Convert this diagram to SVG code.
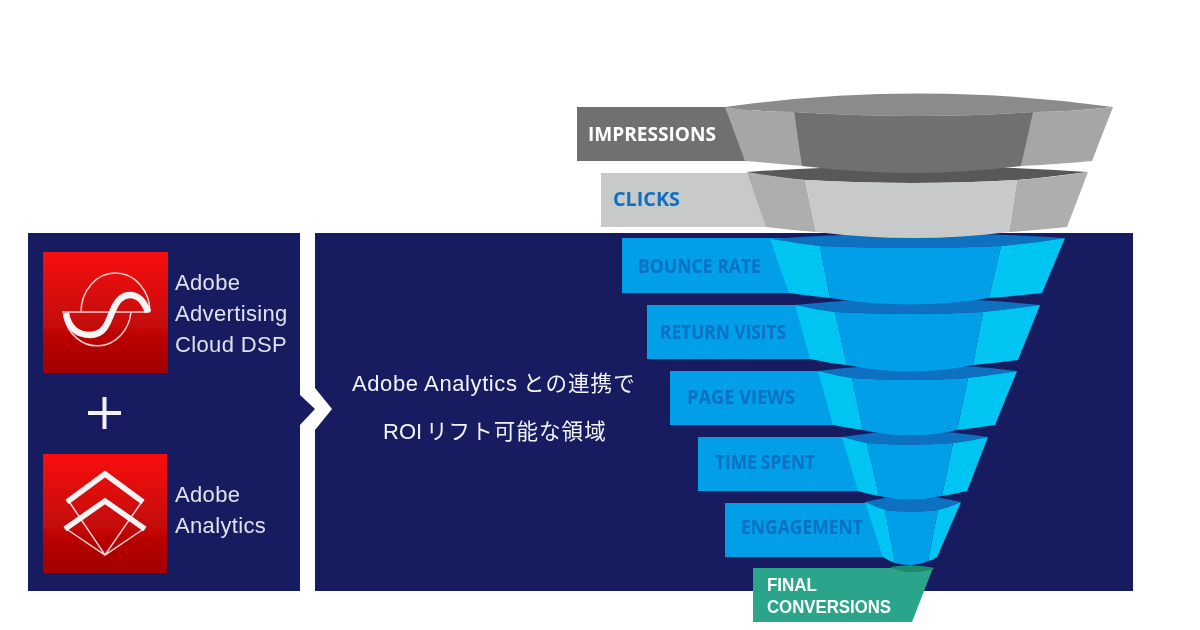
<svg xmlns="http://www.w3.org/2000/svg" width="1200" height="630" viewBox="0 0 1200 630">
<style>
.panel{fill:#181c5e}
.side{font-family:"Liberation Sans",Arial,sans-serif;font-size:22px;letter-spacing:.35px;fill:#dfe2ec}
.mid{font-family:"Liberation Sans","Noto Sans CJK JP",sans-serif;font-size:22px;fill:#f2f3f8}
.lat{letter-spacing:.6px}
.jp{font-size:21.500px;letter-spacing:1.100px}
.lb{font-family:"Open Sans","Liberation Sans",sans-serif;font-size:20px;font-weight:700}
.fin{font-family:"Liberation Sans",Arial,sans-serif;font-size:19px;font-weight:700;fill:#fff}
.bl{fill:#009fe8}.bs{fill:#00c4f2}.bd{fill:#0a6fc0}.bt{fill:#0a6fc0}
.thick{fill:none;stroke:#f4f4f4;stroke-width:6.500}
.thin{fill:none;stroke:#f2d6d6;stroke-width:1.500}
</style>
<defs>
<linearGradient id="red" x1="0" y1="0" x2="0" y2="1"><stop offset="0" stop-color="#f90d0d"/><stop offset="1" stop-color="#a00303"/></linearGradient>
<filter id="soft" x="-5%" y="-5%" width="110%" height="110%"><feGaussianBlur stdDeviation="0.7"/></filter>
</defs>
<rect width="1200" height="630" fill="#fff"/>
<g filter="url(#soft)">
<g id="left-panel">
<rect class="panel" x="28" y="233" width="272" height="358"/>
<polygon class="panel" points="299,394 315,409 299,426"/>
</g>
<g id="right-panel">
<polygon class="panel" points="315,233 1133,233 1133,591 315,591 315,430 332,409 315,388"/>
</g>
<g id="connectors"></g>
<g id="dsp">
<rect x="43" y="252" width="125" height="121" fill="url(#red)"/>
<path class="thin" d="M62,312H150M81,312A34.500,39 0 0 1 150,312M131,312A34,38 0 0 1 64,316"/>
<path class="thick" d="M66,313C68,328 78,335 90,335C105,335 108,322 113,310C118,298 124,295 130,295C140,295 145,304 148,312"/>
<text class="side" x="175" y="290">Adobe</text>
<text class="side" x="175" y="321">Advertising</text>
<text class="side" x="175" y="352">Cloud DSP</text>
</g>
<g id="plus"><path d="M88,413H121M104.500,397V429" stroke="#f2f3f8" stroke-width="4" fill="none"/></g>
<g id="analytics">
<rect x="43" y="454" width="124" height="119" fill="url(#red)"/>
<path class="thin" d="M68,500L105,555L143,500M65,528L105,555L145,528"/>
<path class="thick" style="stroke-width:5.500" d="M67,502L105,474L143,502M65,529L105,501L145,529"/>
<text class="side" x="175" y="502">Adobe</text>
<text class="side" x="175" y="533">Analytics</text>
</g>
<g id="caption">
<text class="mid" x="352" y="391"><tspan class="lat">Adobe Analytics</tspan><tspan class="jp" x="523">との連携で</tspan></text>
<text class="mid" x="383" y="438.500">ROI <tspan class="jp" x="426">リフト可能な領域</tspan></text>
</g>
<g id="final-conversions">
<polygon points="753,568 933,568 912,622 753,622" fill="#2ba58c"/>
<path d="M890,567Q912,563 935,568Q912,577 890,567Z" fill="#1b8a6b"/>
<text class="fin" x="767" y="591" textLength="50" lengthAdjust="spacingAndGlyphs">FINAL</text>
<text class="fin" x="767" y="613" textLength="124" lengthAdjust="spacingAndGlyphs">CONVERSIONS</text>
</g>
<g id="engagement">
<rect class="bl" x="725" y="503" width="160" height="54"/>
<path class="bd" d="M865,502Q912,490 961,502Q950,507 938,510Q911,513 885,510Q875,507 865,502Z"/>
<path class="bs" d="M865,502Q875,507 885,510L895,563Q889,561 883,557Z"/>
<path class="bs" d="M938,510Q950,507 961,502L937,557Q933,560 928,561Z"/>
<path class="bl" d="M885,510Q911,513 938,510L928,561Q912,568 895,563Z"/>
<text class="lb bt" x="741" y="534" textLength="122" lengthAdjust="spacingAndGlyphs">ENGAGEMENT</text>
</g>
<g id="time-spent">
<rect class="bl" x="698" y="437" width="164" height="54"/>
<path class="bd" d="M842,437Q915,425 988,437Q970,441 953,443Q910,446 867,443Q855,441 842,437Z"/>
<path class="bs" d="M842,437Q855,441 867,443L879,496Q868,494 858,491Z"/>
<path class="bs" d="M953,443Q970,441 988,437L967,491Q955,494 942,496Z"/>
<path class="bl" d="M867,443Q910,446 953,443L942,496Q910,503 879,496Z"/>
<text class="lb bt" x="715" y="469" textLength="100" lengthAdjust="spacingAndGlyphs">TIME SPENT</text>
</g>
<g id="page-views">
<rect class="bl" x="670" y="371" width="167" height="54"/>
<path class="bd" d="M818,371Q917,358 1017,371Q992,375 968,378Q910,382 852,378Q835,376 818,371Z"/>
<path class="bs" d="M818,371Q835,376 852,378L863,430Q848,428 833,425Z"/>
<path class="bs" d="M968,378Q992,375 1017,371L995,425Q976,428 957,430Z"/>
<path class="bl" d="M852,378Q910,382 968,378L957,430Q910,441 863,430Z"/>
<text class="lb bt" x="687" y="404" textLength="108" lengthAdjust="spacingAndGlyphs">PAGE VIEWS</text>
</g>
<g id="return-visits">
<rect class="bl" x="647" y="305" width="168" height="54"/>
<path class="bd" d="M795,305Q917,292 1040,305Q1012,309 983,312Q910,316 835,312Q815,310 795,305Z"/>
<path class="bs" d="M795,305Q815,310 835,312L847,365Q828,363 810,359Z"/>
<path class="bs" d="M983,312Q1012,309 1040,305L1018,360Q995,363 973,365Z"/>
<path class="bl" d="M835,312Q910,316 983,312L973,365Q910,378 847,365Z"/>
<text class="lb bt" x="660" y="339" textLength="126" lengthAdjust="spacingAndGlyphs">RETURN VISITS</text>
</g>
<g id="bounce-rate">
<rect class="bl" x="622" y="238" width="172" height="55"/>
<path class="bd" d="M770,239Q917,228 1065,238Q1035,243 1001,246Q915,250 820,246Q795,243 770,239Z"/>
<path class="bs" d="M770,239Q795,243 820,246L830,298Q810,296 789,293Z"/>
<path class="bs" d="M1001,246Q1035,243 1065,238L1042,293Q1015,296 989,298Z"/>
<path class="bl" d="M820,246Q915,250 1001,246L989,298Q910,311 830,298Z"/>
<text class="lb bt" x="638" y="273" textLength="123" lengthAdjust="spacingAndGlyphs">BOUNCE RATE</text>
</g>
<g id="clicks">
<rect x="601" y="173" width="170" height="54" fill="#c8c9c9"/>
<path d="M746,172Q917,160 1088,172Q1050,177 1017,180Q915,186 805,180Q770,177 746,172Z" fill="#595959"/>
<path d="M747,172Q775,177 805,180L816,232Q790,230 766,227Z" fill="#aeaeaf"/>
<path d="M1017,180Q1055,177 1088,172L1067,227Q1040,230 1009,232Z" fill="#aeaeaf"/>
<path d="M805,180Q915,186 1017,180L1009,232Q915,244 816,232Z" fill="#c8c9c9"/>
<text class="lb" x="613" y="206" style="fill:#0a6fc0" textLength="67" lengthAdjust="spacingAndGlyphs">CLICKS</text>
</g>
<g id="impressions">
<rect x="577" y="107" width="175" height="54" fill="#6f6f70"/>
<path d="M725,107Q918,80 1113,107Q1070,112 1033,112Q918,120 794,112Q760,112 725,107Z" fill="#8b8b8c"/>
<path d="M725,107Q760,112 794,112L803,166Q770,163 745,161Z" fill="#a6a6a7"/>
<path d="M1031,112Q1070,112 1113,107L1092,161Q1060,164 1021,166Z" fill="#a6a6a7"/>
<path d="M794,112Q918,120 1033,112L1021,166Q915,180 802,166Z" fill="#6f6f70"/>
<text class="lb" x="588" y="141" fill="#fff" textLength="128" lengthAdjust="spacingAndGlyphs">IMPRESSIONS</text>
</g>
</g>
</svg>
